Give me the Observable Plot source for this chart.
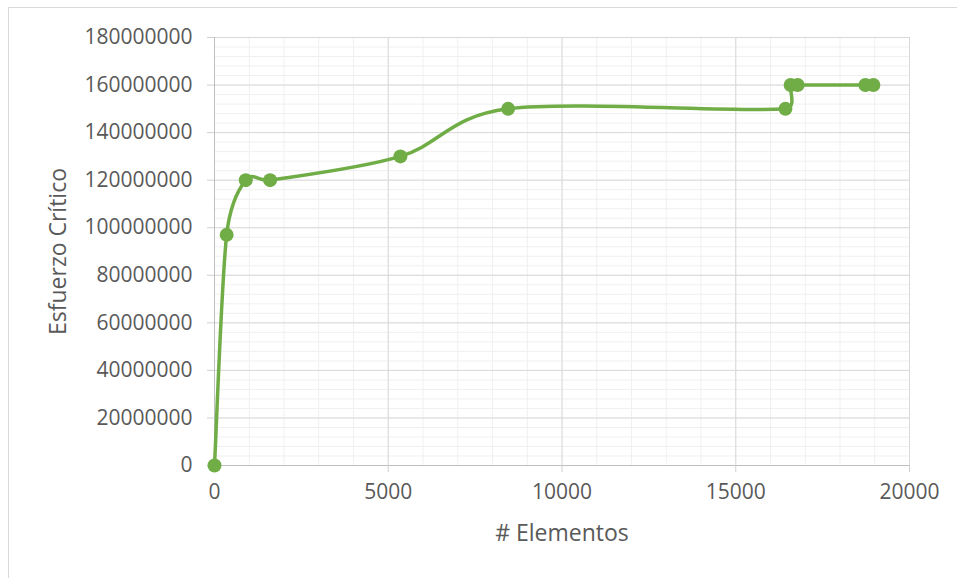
<!DOCTYPE html>
<html>
<head>
<meta charset="utf-8">
<script src="https://cdn.jsdelivr.net/npm/d3@7"></script>
<script src="https://cdn.jsdelivr.net/npm/@observablehq/plot@0.6"></script>
<style>
  html, body { margin: 0; padding: 0; background: #fff; }
  #wrap { position: relative; width: 957px; height: 578px; overflow: hidden; }
  #border { position: absolute; left: 8px; top: 7px; width: 1000px; height: 1000px; border: 1px solid #d9d9d9; box-sizing: border-box; }
  #chart { position: absolute; left: 0; top: 0; }
</style>
</head>
<body>
<div id="wrap"><div id="border"></div><div id="chart"></div></div>
<script>
const elementos = [0, 350, 900, 1600, 5350, 8450, 16430, 16580, 16780, 18730, 18960];
const esfuerzo = [0, 97000000, 120000000, 120000000, 130000000, 150000000, 150000000, 160000000, 160000000, 160000000, 160000000];
const xTicks = [0, 5000, 10000, 15000, 20000];
const yTicks = [0, 20000000, 40000000, 60000000, 80000000, 100000000, 120000000, 140000000, 160000000, 180000000];
const xMinor = d3.range(0, 20001, 1000);
const yMinor = d3.range(0, 180000001, 4000000);
const xTitle = "# Elementos";
const yTitle = "Esfuerzo Crítico";

const data = elementos.map((x, i) => ({x, y: esfuerzo[i]}));
const green = "#70ad47";
const txt = "#595959";

// Spreadsheet-style smoothed line: Catmull-Rom tangents (1/6) capped at half the segment length.
function smoothCurve(context) {
  let pts = [];
  return {
    areaStart() {}, areaEnd() {},
    lineStart() { pts = []; },
    point(x, y) { pts.push([+x, +y]); },
    lineEnd() {
      const n = pts.length;
      if (!n) return;
      context.moveTo(pts[0][0], pts[0][1]);
      if (n === 1) return;
      const tan = pts.map((p, i) => {
        const a = pts[Math.max(0, i - 1)], b = pts[Math.min(n - 1, i + 1)];
        return [b[0] - a[0], b[1] - a[1]];
      });
      for (let i = 0; i < n - 1; i++) {
        const p1 = pts[i], p2 = pts[i + 1];
        const d = Math.hypot(p2[0] - p1[0], p2[1] - p1[1]);
        const t1 = tan[i], t2 = tan[i + 1];
        const l1 = Math.hypot(t1[0], t1[1]), l2 = Math.hypot(t2[0], t2[1]);
        const f1 = l1 > 0 ? Math.min(1 / 6, (d / 2) / l1) : 0;
        const f2 = l2 > 0 ? Math.min(1 / 6, (d / 2) / l2) : 0;
        context.bezierCurveTo(
          p1[0] + t1[0] * f1, p1[1] + t1[1] * f1,
          p2[0] - t2[0] * f2, p2[1] - t2[1] * f2,
          p2[0], p2[1]);
      }
    }
  };
}

const chart = Plot.plot({
  width: 957,
  height: 578,
  marginLeft: 214,
  marginRight: 48,
  marginTop: 37,
  marginBottom: 113,
  style: {fontFamily: "'Open Sans', sans-serif", fontSize: "21px", color: txt, background: "transparent"},
  x: {domain: [0, 20000]},
  y: {domain: [0, 180000000]},
  marks: [
    Plot.gridX(xMinor, {stroke: "#f0f0f0", strokeOpacity: 1}),
    Plot.gridY(yMinor, {stroke: "#f0f0f0", strokeOpacity: 1}),
    Plot.gridX(xTicks, {stroke: "#d9d9d9", strokeOpacity: 1}),
    Plot.gridY(yTicks, {stroke: "#d9d9d9", strokeOpacity: 1}),
    Plot.ruleX([0], {stroke: "#bfbfbf"}),
    Plot.ruleY([0], {stroke: "#bfbfbf"}),
    Plot.axisY(yTicks, {tickSize: 7, tickPadding: 15, tickFormat: d3.format("d"), stroke: "#d0d0d0", fill: txt, fontSize: 21, label: null}),
    Plot.axisX(xTicks, {tickSize: 7, tickPadding: 12, tickFormat: d3.format("d"), stroke: "#d0d0d0", fill: txt, fontSize: 21, label: null}),
    Plot.line(data, {x: "x", y: "y", stroke: green, strokeWidth: 3.5, curve: smoothCurve}),
    Plot.dot(data, {x: "x", y: "y", r: 7, fill: green, stroke: "none"}),
    Plot.text([xTitle], {frameAnchor: "bottom", textAnchor: "middle", dy: 75, fill: txt, fontSize: 23, text: d => d}),
    Plot.text([yTitle], {frameAnchor: "left", textAnchor: "middle", dx: -156, rotate: -90, fill: txt, fontSize: 23, text: d => d})
  ]
});
document.getElementById("chart").appendChild(chart);
</script>
</body>
</html>
